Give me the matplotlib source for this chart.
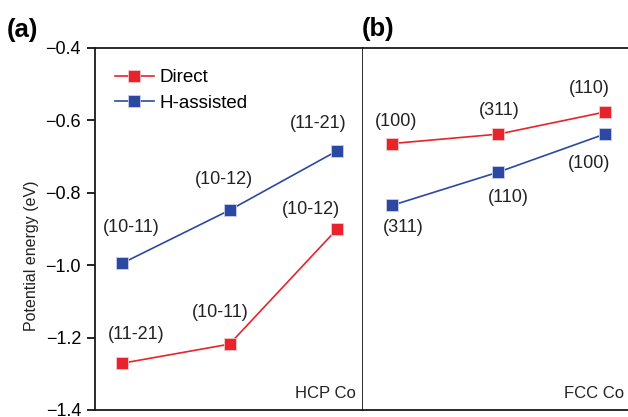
import matplotlib.pyplot as plt
import numpy as np

plt.rcParams['font.family'] = ['Liberation Sans', 'DejaVu Sans']

# HCP Co (panel a)
hcp_direct = [-1.271, -1.218, -0.900]
hcp_direct_lbl = ["(11-21)", "(10-11)", "(10-12)"]
hcp_hassist = [-0.995, -0.848, -0.684]
hcp_hassist_lbl = ["(10-11)", "(10-12)", "(11-21)"]

# FCC Co (panel b)
fcc_direct = [-0.664, -0.638, -0.577]
fcc_direct_lbl = ["(100)", "(311)", "(110)"]
fcc_hassist = [-0.835, -0.743, -0.638]
fcc_hassist_lbl = ["(311)", "(110)", "(100)"]

yticks = [-1.4, -1.2, -1.0, -0.8, -0.6, -0.4]

red = "#e8232b"
blue = "#2d48a3"

# label offsets in points (dx, dy) relative to each marker
hcp_direct_off = [(10, 21), (-7, 23), (-19, 14)]
hcp_hassist_off = [(7, 26), (-4, 22), (-14, 20)]
fcc_direct_off = [(3, 16), (1, 17), (-11, 17)]
fcc_hassist_off = [(8, -16), (7, -18), (-11, -21)]

fig = plt.figure(figsize=(6.28, 4.17), dpi=100)
W, H = 628, 417
ax1 = fig.add_axes([95 / W, 1 - 410 / H, (363 - 95) / W, (410 - 48) / H])
ax2 = fig.add_axes([363 / W, 1 - 410 / H, (628 - 363) / W, (410 - 48) / H])

x = np.arange(3)
mk = dict(marker="s", markersize=9, markeredgewidth=0.6, linewidth=1.2)


def draw(ax, d, h, dl, hl, doff, hoff):
    ax.plot(x, d, color=red, label="Direct", markeredgecolor="#f6c9c9", **mk)
    ax.plot(x, h, color=blue, label="H-assisted", markeredgecolor="#c9d0ea", **mk)
    for xi, yi, t, o in zip(x, d, dl, doff):
        ax.annotate(t, (xi, yi), xytext=o, textcoords="offset points",
                    ha="center", va="center", fontsize=13, color="#222222")
    for xi, yi, t, o in zip(x, h, hl, hoff):
        ax.annotate(t, (xi, yi), xytext=o, textcoords="offset points",
                    ha="center", va="center", fontsize=13, color="#222222")
    ax.set_ylim(-1.4, -0.4)
    ax.set_xticks([])
    for s in ax.spines.values():
        s.set_linewidth(1.3)
        s.set_color("#1a1a1a")


draw(ax1, hcp_direct, hcp_hassist, hcp_direct_lbl, hcp_hassist_lbl,
     hcp_direct_off, hcp_hassist_off)
draw(ax2, fcc_direct, fcc_hassist, fcc_direct_lbl, fcc_hassist_lbl,
     fcc_direct_off, fcc_hassist_off)

ax1.set_xlim(-0.25, 2.24)
ax2.set_xlim(-0.27, 2.22)

ax1.set_yticks(yticks)
ax1.set_yticklabels(["\u2212%.1f" % abs(v) for v in yticks])
ax1.tick_params(axis="y", direction="out", length=6, width=1.2, labelsize=13, pad=4)
ax1.set_ylabel("Potential energy (eV)", fontsize=11.5, color="#222222")
ax1.yaxis.set_label_coords(-0.21, 0.425)

ax2.set_yticks([])
ax2.spines["left"].set_visible(False)
ax2.spines["right"].set_visible(False)

ax1.legend(loc="upper left", bbox_to_anchor=(0.045, 0.962), frameon=False, fontsize=13.5,
           handlelength=2.1, handletextpad=0.3, labelspacing=0.45, borderaxespad=0.0)

ax1.text(0.975, 0.025, "HCP Co", transform=ax1.transAxes, ha="right", va="bottom",
         fontsize=12, color="#222222")
ax2.text(0.985, 0.025, "FCC Co", transform=ax2.transAxes, ha="right", va="bottom",
         fontsize=12, color="#222222")

fig.text(7 / W, 1 - 30 / H, "(a)", fontsize=18.5, fontweight="bold", va="center")
fig.text(362 / W, 1 - 29 / H, "(b)", fontsize=18.5, fontweight="bold", va="center")

fig.savefig("out.png", dpi=100)
